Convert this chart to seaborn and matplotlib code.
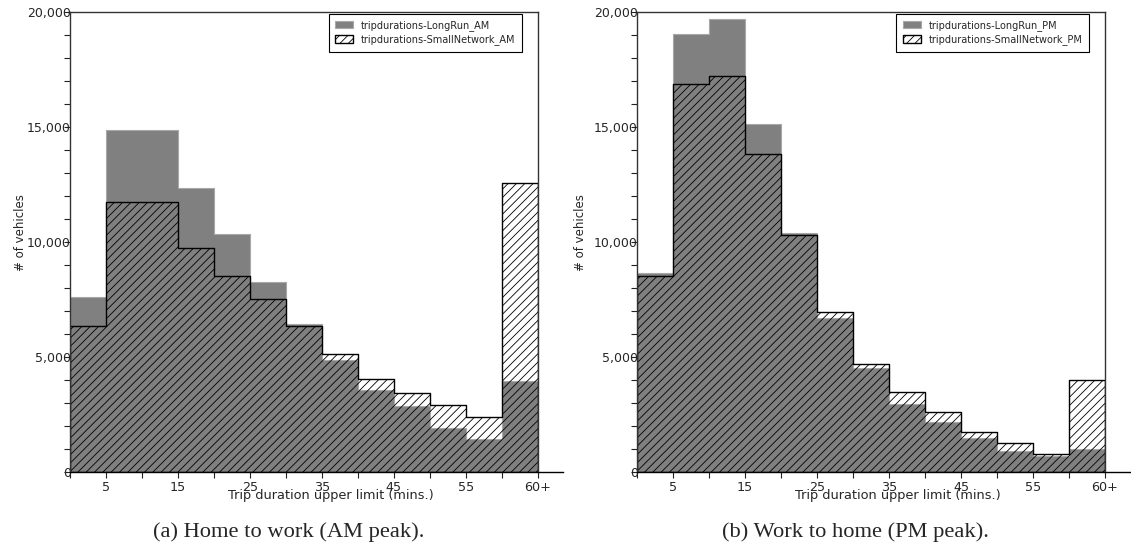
import numpy as np
import pandas as pd
import matplotlib
matplotlib.use("Agg")
import matplotlib.pyplot as plt
import seaborn as sns

# ---- data ----
bin_labels = ["5", "10", "15", "20", "25", "30", "35", "40", "45", "50", "55", "60", "60+"]
am_longrun = [7600, 14870, 14870, 12350, 10350, 8260, 6430, 4870, 3560, 2870, 1930, 1430, 3960]
am_small = [6340, 11730, 11730, 9730, 8510, 7520, 6340, 5130, 4040, 3430, 2930, 2400, 12550]
pm_longrun = [8670, 19030, 19680, 15140, 10400, 6700, 4520, 2960, 2170, 1500, 900, 680, 1000]
pm_small = [8520, 16860, 17220, 13830, 10300, 6950, 4680, 3470, 2610, 1720, 1250, 800, 4000]
yticks_major = [0, 5000, 10000, 15000, 20000]

sns.set_style("ticks")
plt.rcParams["font.family"] = ["DejaVu Sans"]
plt.rcParams["hatch.linewidth"] = 0.6
plt.rcParams["hatch.color"] = "black"

W, H = 1131, 554
fig = plt.figure(figsize=(W / 100, H / 100), dpi=100)
ax_l = fig.add_axes([70 / W, 1 - 472 / H, 468 / W, 460 / H])
ax_r = fig.add_axes([637 / W, 1 - 472 / H, 468 / W, 460 / H])

nb = len(bin_labels)
positions = np.arange(nb) + 0.5
edges = np.arange(nb + 1)


def draw(ax, longrun, small, suffix, ylab_x):
    df = pd.DataFrame({"pos": positions, "longrun": longrun, "small": small})
    sns.histplot(data=df, x="pos", weights="longrun", binwidth=1, binrange=(0, nb),
                 element="step", fill=True, color="#808080", facecolor="#808080",
                 edgecolor="#a8a8a8", linewidth=0.8, alpha=1, ax=ax,
                 label=f"tripdurations-LongRun_{suffix}")
    sns.histplot(data=df, x="pos", weights="small", binwidth=1, binrange=(0, nb),
                 element="step", fill=True, color="black", facecolor="none",
                 edgecolor="black", hatch="////", linewidth=1.0, ax=ax,
                 label=f"tripdurations-SmallNetwork_{suffix}")
    ax.set_xlim(0, nb)
    ax.set_ylim(0, 20000)
    ax.set_xticks(edges)
    ax.set_xticklabels([""] + [bin_labels[i - 1] if (i - 1) % 2 == 0 else ""
                               for i in range(1, len(edges))])
    ax.set_yticks(yticks_major)
    ax.set_yticklabels([f"{v:,}" for v in yticks_major])
    ax.set_yticks(np.arange(0, 20001, 1000), minor=True)
    ax.tick_params(axis="y", which="both", direction="out", length=4, width=0.8,
                   pad=-4.5, labelsize=9, color="#222222")
    ax.tick_params(axis="x", which="both", direction="out", length=4, width=0.8,
                   pad=2.2, labelsize=9.2, color="#222222")
    for s in ax.spines.values():
        s.set_color("#333333")
        s.set_linewidth(1.0)
    ax.spines["bottom"].set_color("black")
    ax.spines["bottom"].set_bounds(0, nb + 0.7)
    ax.set_xlabel("Trip duration upper limit (mins.)", fontsize=9.3)
    ax.xaxis.set_label_coords(0.558, -0.036)
    ax.set_ylabel("# of vehicles", fontsize=8.5)
    ax.yaxis.set_label_coords(ylab_x, 0.52)
    leg = ax.legend(loc="upper right", bbox_to_anchor=(0.965, 0.996), borderaxespad=0,
                    fontsize=7, fancybox=False, framealpha=1, edgecolor="black",
                    handlelength=1.85, handleheight=0.8, handletextpad=0.8,
                    borderpad=0.65, labelspacing=0.35)
    leg.get_frame().set_linewidth(0.8)


draw(ax_l, am_longrun, am_small, "AM", -0.092)
draw(ax_r, pm_longrun, pm_small, "PM", -0.107)

fig.text(288.5 / W, 1 - 536.5 / H, "(a) Home to work (AM peak).", ha="center",
         va="baseline", family="Liberation Serif", size=16.2)
fig.text(855.5 / W, 1 - 536.5 / H, "(b) Work to home (PM peak).", ha="center",
         va="baseline", family="Liberation Serif", size=16.2)

fig.savefig("out.png", dpi=100)
